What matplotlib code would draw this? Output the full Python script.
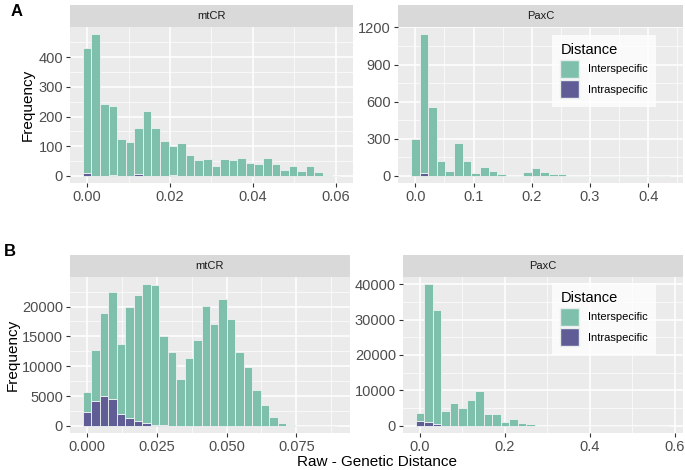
import numpy as np
import matplotlib
matplotlib.use('Agg')
import matplotlib.pyplot as plt
from matplotlib.patches import Patch

plt.rcParams['font.family'] = ['Liberation Sans', 'DejaVu Sans']

W, H = 685, 470

# ---- data: histogram counts per bin (30 bins, first bin centred at 0) ----
# panel A, mtCR
a_mtcr_width = 0.00207
a_mtcr_intra = [10, 0, 0, 3, 0, 0, 8, 0, 0, 0, 3, 0, 0, 0, 0, 0, 0, 0, 0, 0,
                0, 0, 0, 0, 0, 0, 0, 0, 0, 0]
a_mtcr_inter = [420, 478, 241, 234, 126, 114, 155, 220, 160, 117, 99, 111, 70, 52, 56,
                33, 56, 53, 61, 43, 40, 59, 40, 19, 33, 16, 35, 14, 3, 1]
# panel A, PaxC
a_paxc_width = 0.01483
a_paxc_intra = [0, 20, 0, 0, 0, 0, 0, 0, 0, 0, 0, 0, 0, 0, 0, 0, 0, 0, 0, 0,
                0, 0, 0, 0, 0, 0, 0, 0, 0, 0]
a_paxc_inter = [298, 1126, 556, 122, 43, 266, 119, 27, 70, 43, 14, 2, 0, 30, 62,
                35, 14, 19, 0, 0, 0, 0, 0, 0, 0, 0, 0, 0, 0, 1]
# panel B, mtCR
b_mtcr_width = 0.00304
b_mtcr_intra = [2250, 4220, 5010, 4560, 1970, 1400, 790, 450, 200, 80, 0, 0, 0, 0, 0,
                0, 0, 0, 0, 0, 0, 0, 0, 0, 0, 0, 0, 0, 0, 0]
b_mtcr_inter = [3380, 8450, 13860, 17860, 11830, 18600, 21070, 23320, 23350, 14960,
                12390, 7830, 11380, 14370, 20060, 17010, 21300, 17970, 12340, 9910,
                6080, 3490, 1410, 510, 100, 30, 10, 5, 2, 1]
# panel B, PaxC
b_paxc_width = 0.02
b_paxc_intra = [1420, 1140, 470, 0, 0, 0, 0, 0, 0, 0, 0, 0, 0, 0, 0,
                0, 0, 0, 0, 0, 0, 0, 0, 0, 0, 0, 0, 0, 0, 0]
b_paxc_inter = [2280, 38860, 32230, 4270, 6540, 5020, 7390, 9950, 3220, 3410,
                1230, 1990, 950, 660, 80, 30, 10, 5, 0, 0, 0, 0, 0, 0, 0, 0, 0, 0, 0, 2]

inter_col = '#7fc0ad'
intra_col = '#5f5c96'


def px_axes(fig, x0, y0, x1, y1):
    return fig.add_axes([x0 / W, 1 - y1 / H, (x1 - x0) / W, (y1 - y0) / H])


def panel(fig, box, title, width, intra, inter, xticks, xlabels, yticks):
    x0, ys, y0, x1, y1 = box
    strip = px_axes(fig, x0, ys, x1, y0)
    strip.set_facecolor('#d9d9d9')
    strip.set_xticks([])
    strip.set_yticks([])
    for s in strip.spines.values():
        s.set_visible(False)
    strip.text(0.5, 0.5, title, ha='center', va='center', fontsize=8, color='#1a1a1a',
               transform=strip.transAxes)

    ax = px_axes(fig, x0, y0, x1, y1)
    ax.set_facecolor('#ebebeb')
    for s in ax.spines.values():
        s.set_visible(False)
    intra = np.array(intra, dtype=float)
    inter = np.array(inter, dtype=float)
    centers = np.arange(len(intra)) * width
    ax.bar(centers, intra, width=width, color=intra_col, edgecolor='#eef2f1', linewidth=0.6, zorder=3)
    ax.bar(centers, inter, bottom=intra, width=width, color=inter_col, edgecolor='#eef2f1',
           linewidth=0.6, zorder=3)

    ax.set_xticks(xticks)
    ax.set_xticklabels(xlabels)
    step = xticks[1] - xticks[0]
    ax.set_xticks(np.arange(len(xticks) + 1) * step - step / 2, minor=True)
    ax.set_yticks(yticks)
    ystep = yticks[1] - yticks[0]
    ax.set_yticks(np.arange(len(yticks) + 1) * ystep - ystep / 2, minor=True)

    # limits after ticks, ggplot style 5% expansion
    lo, hi = centers[0] - width / 2, centers[-1] + width / 2
    ax.set_xlim(lo - 0.05 * (hi - lo), hi + 0.05 * (hi - lo))
    top = (intra + inter).max()
    ax.set_ylim(-0.05 * top, 1.05 * top)

    ax.grid(True, which='major', color='white', linewidth=1.1, zorder=0)
    ax.grid(True, which='minor', color='white', linewidth=0.5, zorder=0)
    ax.set_axisbelow(True)
    ax.tick_params(which='major', length=3, width=0.8, color='#333333',
                   labelsize=10.5, labelcolor='#4d4d4d', pad=2)
    ax.tick_params(which='minor', length=0)
    return ax


fig = plt.figure(figsize=(W / 100, H / 100), dpi=100)

panel(fig, (70, 5, 27, 353, 183), 'mtCR', a_mtcr_width, a_mtcr_intra, a_mtcr_inter,
      [0, 0.02, 0.04, 0.06], ['0.00', '0.02', '0.04', '0.06'], [0, 100, 200, 300, 400])
ax_a2 = panel(fig, (398, 5, 27, 683, 183), 'PaxC', a_paxc_width, a_paxc_intra, a_paxc_inter,
              [0, 0.1, 0.2, 0.3, 0.4], ['0.0', '0.1', '0.2', '0.3', '0.4'], [0, 300, 600, 900, 1200])
panel(fig, (70, 255, 277, 350, 433), 'mtCR', b_mtcr_width, b_mtcr_intra, b_mtcr_inter,
      [0, 0.025, 0.05, 0.075], ['0.000', '0.025', '0.050', '0.075'], [0, 5000, 10000, 15000, 20000])
ax_b2 = panel(fig, (403, 255, 277, 683, 433), 'PaxC', b_paxc_width, b_paxc_intra, b_paxc_inter,
              [0, 0.2, 0.4, 0.6], ['0.0', '0.2', '0.4', '0.6'], [0, 10000, 20000, 30000, 40000])

handles = [Patch(facecolor=inter_col, edgecolor='#e8eeec', label='Interspecific'),
           Patch(facecolor=intra_col, edgecolor='#e8eeec', label='Intraspecific')]
for ax, ytop in [(ax_a2, 35), (ax_b2, 283)]:
    leg = fig.legend(handles=handles, title='Distance', loc='upper left',
                     bbox_to_anchor=(552 / W, 1 - ytop / H), fontsize=8,
                     title_fontsize=10.5, frameon=True, fancybox=False,
                     handlelength=1.7, handleheight=2.15, handletextpad=0.75,
                     labelspacing=0.2, borderpad=0.75, borderaxespad=0,
                     alignment='left')
    leg.get_frame().set_edgecolor('white')
    leg.get_frame().set_linewidth(0)

fig.text(17 / W, 1 - 12 / H, 'A', fontsize=12, fontweight='bold', ha='center', va='center')
fig.text(10 / W, 1 - 252 / H, 'B', fontsize=12, fontweight='bold', ha='center', va='center')
fig.text(28 / W, 1 - 105 / H, 'Frequency', rotation=90, fontsize=11, ha='center', va='center')
fig.text(13 / W, 1 - 355 / H, 'Frequency', rotation=90, fontsize=11, ha='center', va='center')
fig.text(377 / W, 1 - 462 / H, 'Raw - Genetic Distance', fontsize=11, ha='center', va='center')

fig.savefig('out.png', dpi=100)
